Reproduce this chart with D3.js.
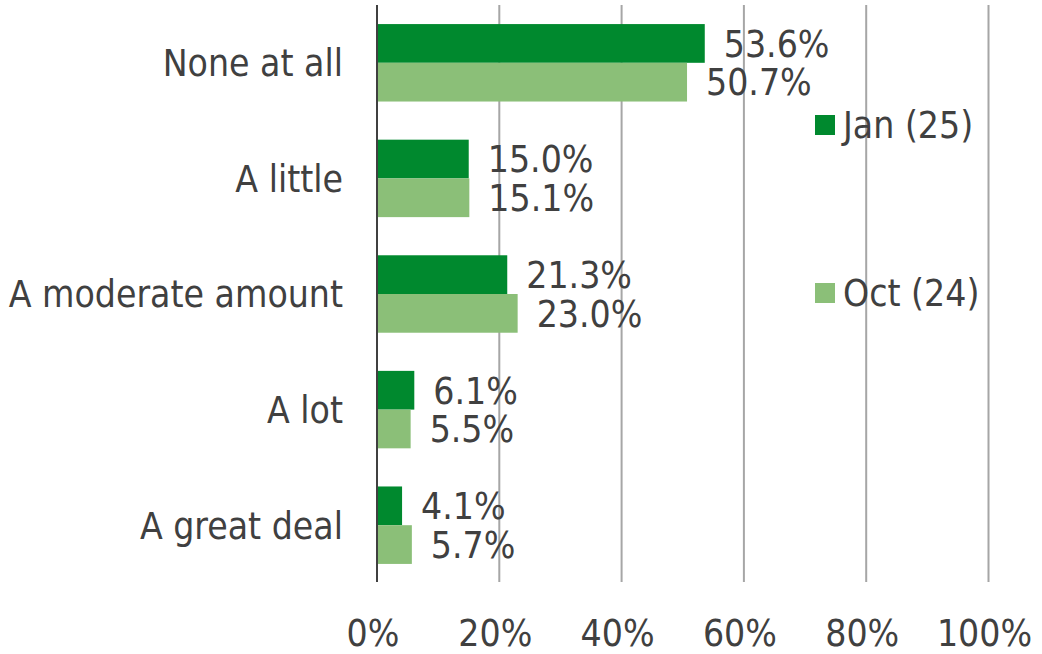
<!DOCTYPE html>
<html><head><meta charset="utf-8">
<script src="https://cdn.jsdelivr.net/npm/d3@7"></script>
<style>body{margin:0;background:#fff;} text{font-family:"DejaVu Sans Condensed","DejaVu Sans",sans-serif;fill:#404040;}</style>
</head><body><svg id="c" width="1042" height="654"></svg>
<script>
const categories = ["None at all","A little","A moderate amount","A lot","A great deal"];
const seriesNames = ["Jan (25)","Oct (24)"];
const jan = [53.6,15.0,21.3,6.1,4.1];
const oct = [50.7,15.1,23.0,5.5,5.7];
const xTicks = [0,20,40,60,80,100];
const colors = ["#00892E","#8BBF78"];

const svg = d3.select("#c");
const x = d3.scaleLinear().domain([0,100]).range([377,988.5]);
const y = d3.scaleBand().domain(categories).range([5,583]).paddingInner(0.33).paddingOuter(0.165);
const ys = d3.scaleBand().domain(seriesNames).range([0,y.bandwidth()]);
const fs = 37;

// gridlines
svg.append("g").selectAll("line").data(xTicks.filter(d=>d>0)).join("line")
  .attr("x1",d=>x(d)).attr("x2",d=>x(d)).attr("y1",5).attr("y2",582)
  .attr("stroke","#A6A6A6").attr("stroke-width",2);

const data = categories.map((c,i)=>({c, vals:[jan[i],oct[i]]}));
const g = svg.append("g").selectAll("g").data(data).join("g")
  .attr("transform",d=>`translate(0,${y(d.c)})`);
g.selectAll("rect").data(d=>d.vals.map((v,j)=>({v,s:seriesNames[j],j}))).join("rect")
  .attr("x",x(0)).attr("y",d=>ys(d.s)).attr("width",d=>x(d.v)-x(0)).attr("height",ys.bandwidth())
  .attr("fill",d=>colors[d.j]);
g.selectAll("text").data(d=>d.vals.map((v,j)=>({v,s:seriesNames[j],j}))).join("text")
  .attr("x",d=>x(d.v)+19).attr("y",d=>ys(d.s)+ys.bandwidth()/2).attr("dy","0.36em")
  .attr("font-size",fs).text(d=>d.v.toFixed(1)+"%");

// axis line
svg.append("line").attr("x1",x(0)).attr("x2",x(0)).attr("y1",5).attr("y2",582)
  .attr("stroke","#404040").attr("stroke-width",2);

// category labels
svg.append("g").selectAll("text").data(categories).join("text")
  .attr("x",343).attr("y",d=>y(d)+y.bandwidth()/2).attr("dy","0.36em")
  .attr("text-anchor","end").attr("font-size",fs).text(d=>d);

// x tick labels
svg.append("g").selectAll("text").data(xTicks).join("text")
  .attr("x",d=>x(d)-4).attr("y",633).attr("dy","0.36em")
  .attr("text-anchor","middle").attr("font-size",fs).text(d=>d+"%");

// legend
const leg = svg.append("g").selectAll("g").data(seriesNames).join("g")
  .attr("transform",(d,i)=>`translate(815,${[125,293][i]})`);
leg.append("rect").attr("x",0).attr("y",-10).attr("width",20).attr("height",20).attr("fill",(d,i)=>colors[i]);
leg.append("text").attr("x",28).attr("dy","0.36em").attr("font-size",fs).text(d=>d);
</script></body></html>
